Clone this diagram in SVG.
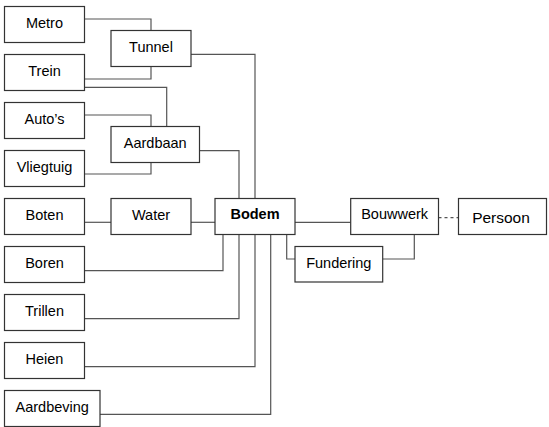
<svg xmlns="http://www.w3.org/2000/svg" width="549" height="427" viewBox="0 0 549 427">
<style>
.b{fill:#fff;stroke:#333;stroke-width:1.2}
.t{font-family:"Liberation Sans",Arial,sans-serif;font-size:14.5px;fill:#000;text-anchor:middle}
.c{fill:none;stroke:#555;stroke-width:1.2}
</style>
<rect width="549" height="427" fill="#fff"/>
<g id="connectors">
<path class="c" d="M84.5,19H151V30.5"/>
<path class="c" d="M151,66.5V79H84.5"/>
<path class="c" d="M84.5,87.3H166.7V126.5"/>
<path class="c" d="M84.5,115H151V126.5"/>
<path class="c" d="M151,162.5V174H84.5"/>
<path class="c" d="M191,54.3H255V198.5"/>
<path class="c" d="M199.5,150.7H239V198.5"/>
<path class="c" d="M84.5,222.3H111"/>
<path class="c" d="M191,222.3H215"/>
<path class="c" d="M223,234.5V270.7H84.5"/>
<path class="c" d="M239,234.5V318.7H84.5"/>
<path class="c" d="M255,234.5V366.7H84.5"/>
<path class="c" d="M270.7,234.5V414.3H100"/>
<path class="c" d="M286.7,234.5V259H295"/>
<path class="c" d="M295,222.3H350.7"/>
<path class="c" d="M382.7,259H414.3V234.5"/>
<path class="c" d="M438.5,217.7H458.5" stroke-dasharray="3,3"/>
</g>
<g id="metro"><rect class="b" x="4.5" y="6.5" width="80" height="36"/><text class="t" x="44.5" y="27.7">Metro</text></g>
<g id="trein"><rect class="b" x="4.5" y="54.5" width="80" height="36"/><text class="t" x="44.5" y="75.7">Trein</text></g>
<g id="autos"><rect class="b" x="4.5" y="102.5" width="80" height="36"/><text class="t" x="44.5" y="123.7">Auto’s</text></g>
<g id="vliegtuig"><rect class="b" x="4.5" y="150.5" width="80" height="36"/><text class="t" x="44.5" y="171.7">Vliegtuig</text></g>
<g id="boten"><rect class="b" x="4.5" y="198.5" width="80" height="36"/><text class="t" x="44.5" y="219.7">Boten</text></g>
<g id="boren"><rect class="b" x="4.5" y="246.5" width="80" height="36"/><text class="t" x="44.5" y="267.7">Boren</text></g>
<g id="trillen"><rect class="b" x="4.5" y="294.5" width="80" height="36"/><text class="t" x="44.5" y="315.7">Trillen</text></g>
<g id="heien"><rect class="b" x="4.5" y="342.5" width="80" height="36"/><text class="t" x="44.5" y="363.7">Heien</text></g>
<g id="aardbeving"><rect class="b" x="4.5" y="390.5" width="95.5" height="36"/><text class="t" x="52.2" y="411.7">Aardbeving</text></g>
<g id="tunnel"><rect class="b" x="111" y="30.5" width="80" height="36"/><text class="t" x="151" y="51.7">Tunnel</text></g>
<g id="aardbaan"><rect class="b" x="111" y="126.5" width="88.5" height="36"/><text class="t" x="155.2" y="147.7">Aardbaan</text></g>
<g id="water"><rect class="b" x="111" y="198.5" width="80" height="36"/><text class="t" x="151" y="219.7">Water</text></g>
<g id="bodem"><rect class="b" x="215" y="198.5" width="80" height="36"/><text class="t" x="255" y="219.3" font-weight="bold">Bodem</text></g>
<g id="bouwwerk"><rect class="b" x="350.7" y="198.5" width="87.8" height="36"/><text class="t" x="394.6" y="219.3">Bouwwerk</text></g>
<g id="persoon"><rect class="b" x="458.5" y="198.5" width="88" height="36"/><text class="t" x="501" y="223.3" style="font-size:15.5px">Persoon</text></g>
<g id="fundering"><rect class="b" x="295" y="246.5" width="87.7" height="35.5"/><text class="t" x="338.8" y="267.5">Fundering</text></g>
</svg>
